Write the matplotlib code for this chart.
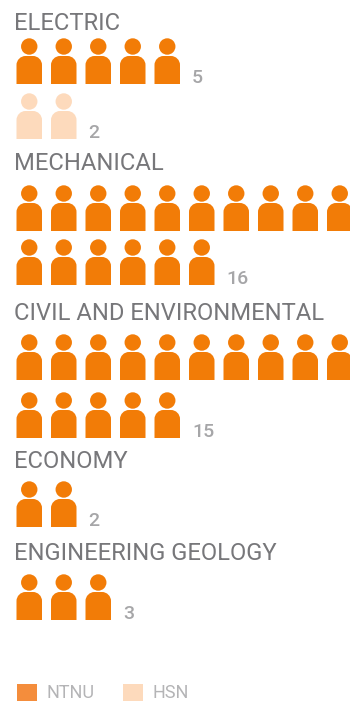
import matplotlib
matplotlib.use('Agg')
import matplotlib.pyplot as plt
from matplotlib.patches import Circle, PathPatch, Rectangle
from matplotlib.path import Path

plt.rcParams['font.family'] = ['Roboto', 'DejaVu Sans']

categories = ['ELECTRIC', 'MECHANICAL', 'CIVIL AND ENVIRONMENTAL', 'ECONOMY', 'ENGINEERING GEOLOGY']
ntnu = [5, 16, 15, 2, 3]
hsn = [2, 0, 0, 0, 0]
legend_labels = ['NTNU', 'HSN']

orange = '#f27c07'
pale = '#fddabc'
title_col = '#77777a'
count_col = '#a6a6a8'

# vertical layout in pixels
title_y = [23, 164, 314, 462, 554]      # title centres
row_bottoms = [[84, 139], [231, 285], [380, 438], [527], [620]]
per_row = 10
left = 16.5
step = 34.5
icon_w = 25.5


def person(ax, x, bottom, col):
    # rounded shoulders on a flat based body, head on top
    top = bottom - 28
    r = 9
    k = 0.55 * r
    verts = [(x, bottom), (x, top + r),
             (x, top + r - k), (x + r - k, top), (x + r, top),
             (x + icon_w - r, top),
             (x + icon_w - r + k, top), (x + icon_w, top + r - k), (x + icon_w, top + r),
             (x + icon_w, bottom), (x, bottom)]
    codes = [Path.MOVETO, Path.LINETO, Path.CURVE4, Path.CURVE4, Path.CURVE4, Path.LINETO,
             Path.CURVE4, Path.CURVE4, Path.CURVE4, Path.LINETO, Path.CLOSEPOLY]
    ax.add_patch(PathPatch(Path(verts, codes), fc=col, ec='none'))
    ax.add_patch(Circle((x + icon_w / 2, bottom - 37.5), 8.2, fc=col, ec='none'))


def draw_row(ax, n, bottom, col):
    for i in range(n):
        person(ax, left + i * step, bottom, col)


fig = plt.figure(figsize=(3.5, 7.01), dpi=100)
ax = fig.add_axes([0, 0, 1, 1])
ax.set_xlim(0, 350)
ax.set_ylim(701, 0)
ax.axis('off')

for c, title in enumerate(categories):
    ax.text(14.5, title_y[c], title, fontsize=17.1, color=title_col, va='center', ha='left')
    rows = row_bottoms[c]
    n = ntnu[c]
    r = 0
    # full rows first, the count goes after the last icon of the series
    while n > 0:
        k = min(n, per_row)
        draw_row(ax, k, rows[r], orange)
        if n <= per_row:
            ax.text(left + k * step + 3, rows[r] - 6, str(ntnu[c]), fontsize=14,
                    color=count_col, va='center', ha='left', fontweight='medium')
        n -= k
        r += 1
    if hsn[c] > 0:
        draw_row(ax, hsn[c], rows[r], pale)
        ax.text(left + hsn[c] * step + 3, rows[r] - 6, str(hsn[c]), fontsize=14,
                color=count_col, va='center', ha='left', fontweight='medium')

# legend
for x, lab, col, tx in zip([17, 123], legend_labels, ['#f48d3c', pale], [47, 153]):
    ax.add_patch(Rectangle((x, 684), 20, 18, fc=col, ec='none', clip_on=True))
    ax.text(tx, 692.5, lab, fontsize=13, color='#b4b4b6', va='center', ha='left')

fig.savefig('out.png', dpi=100)
